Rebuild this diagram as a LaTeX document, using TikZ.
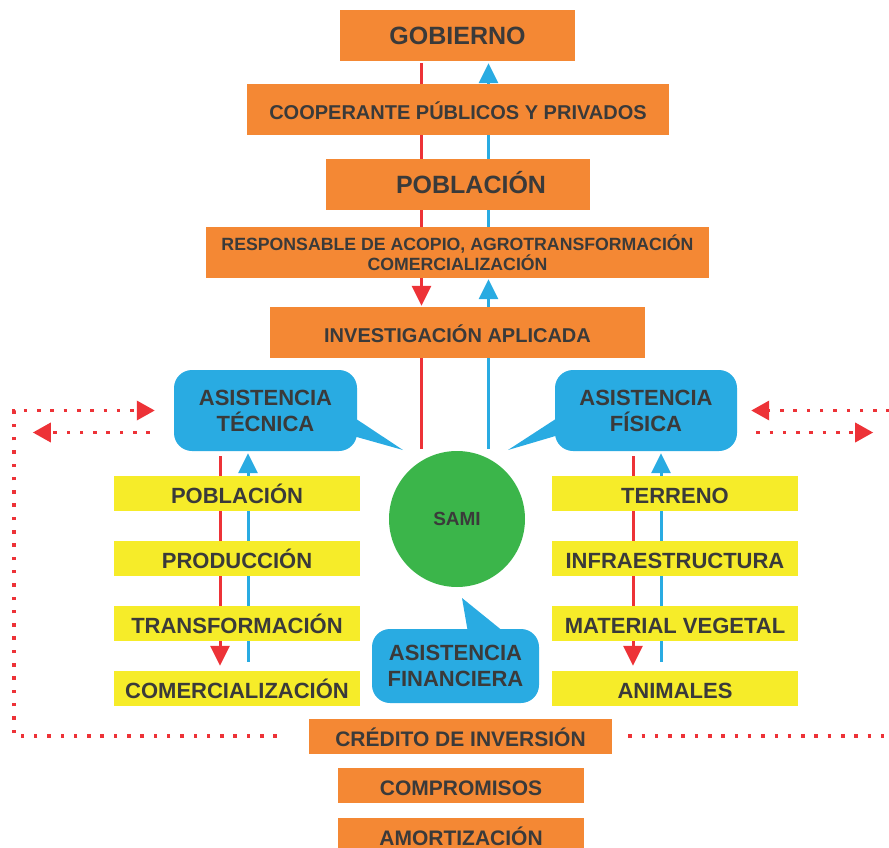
\documentclass[tikz,border=0pt]{standalone}
\usepackage{fontspec}
\setmainfont{Liberation Sans}
\usetikzlibrary{arrows.meta, backgrounds}
\definecolor{naranja}{RGB}{244,136,52}
\definecolor{celeste}{RGB}{41,171,226}
\definecolor{amarillo}{RGB}{246,236,41}
\definecolor{verde}{RGB}{59,181,74}
\definecolor{rojo}{RGB}{237,50,55}
\definecolor{texto}{RGB}{58,58,58}

\begin{document}
\begin{tikzpicture}[x=1pt, y=-1pt,
    caja/.style={rectangle, fill=naranja, text=texto, inner sep=0pt},
    titulo/.style={caja, font=\bfseries\fontsize{25}{30}\selectfont, text height=18pt, text depth=0pt, minimum height=51pt},
    medio/.style={caja, font=\bfseries\fontsize{20}{24}\selectfont, text height=19.5pt, text depth=0pt, minimum height=51pt},
    bajo/.style={caja, font=\bfseries\fontsize{21}{25}\selectfont, text height=20pt, text depth=0pt, minimum height=35pt},
    amarilla/.style={rectangle, fill=amarillo, text=texto, inner sep=0pt, font=\bfseries\fontsize{22}{26}\selectfont, minimum width=246pt, minimum height=35pt, text height=20pt, text depth=0pt},
    globo/.style={rectangle, rounded corners=18pt, fill=celeste, text=texto, align=center, inner sep=0pt, font=\bfseries\fontsize{22}{26}\selectfont},
    rojolinea/.style={draw=rojo, line width=3pt},
    azullinea/.style={draw=celeste, line width=3pt},
    rojoflecha/.style={rojolinea, -{Triangle[length=20pt,width=19pt]}},
    azulflecha/.style={azullinea, -{Triangle[length=20pt,width=19pt]}},
    punteado/.style={draw=rojo, line width=3.5pt, dash pattern=on 3.5pt off 9.8pt, -{Triangle[length=18pt,width=19pt]}}
]
\useasboundingbox (0,0) rectangle (889,848);
\clip (0,0) rectangle (889,848);

\node[titulo, minimum width=235pt] (gob) at (457.5,35.5) {GOBIERNO};
\node[medio, minimum width=422pt] (coop) at (458,109.5) {COOPERANTE PÚBLICOS Y PRIVADOS};
\node[titulo, minimum width=264pt] (pob) at (458,184.5) {\hspace*{26pt}POBLACIÓN};
\node[caja, minimum width=503pt, minimum height=51pt, align=center, font=\bfseries\fontsize{17.7}{20}\selectfont] (resp) at (457.5,252.5)
    {RESPONSABLE DE ACOPIO, AGROTRANSFORMACIÓN\\COMERCIALIZACIÓN};
\node[medio, minimum width=375pt] (inv) at (457.5,332.5) {INVESTIGACIÓN APLICADA};

\node[circle, fill=verde, minimum size=136pt, inner sep=0pt, text=texto, font=\bfseries\fontsize{19}{23}\selectfont] (sami) at (457,519) {SAMI};

\node[globo, minimum width=183pt, minimum height=81pt] (tec) at (265.5,410.5) {ASISTENCIA\\TÉCNICA};
\node[globo, minimum width=182pt, minimum height=81pt] (fis) at (646,410.5) {ASISTENCIA\\FÍSICA};
\node[globo, minimum width=167pt, minimum height=74pt] (fin) at (455.5,666) {ASISTENCIA\\FINANCIERA};

\foreach \t [count=\i] in {POBLACIÓN, PRODUCCIÓN, TRANSFORMACIÓN, COMERCIALIZACIÓN}
    \node[amarilla] (L-\i) at (237, 428.5+65*\i) {\t};
\foreach \t [count=\i] in {TERRENO, INFRAESTRUCTURA, MATERIAL VEGETAL, ANIMALES}
    \node[amarilla] (R-\i) at (675, 428.5+65*\i) {\t};

\node[bajo, minimum width=303pt] (cred) at (460.5,736) {CRÉDITO DE INVERSIÓN};
\node[bajo, minimum width=246pt] (comp) at (461,785.5) {COMPROMISOS};
\node[bajo, minimum width=246pt] (amor) at (461,835) {AMORTIZACIÓN};

% Globe pointers
\coordinate (puntaT) at (403,450);
\coordinate (puntaF) at (508,450);
\coordinate (puntaN) at (462,598);
\fill[celeste] ([xshift=-4pt,yshift=-6.5pt]tec.east) -- (puntaT) -- ([xshift=-4pt,yshift=-25.5pt]tec.east) -- cycle;
\fill[celeste] ([xshift=4pt,yshift=-6.5pt]fis.west) -- (puntaF) -- ([xshift=4pt,yshift=-24.5pt]fis.west) -- cycle;
\fill[celeste] ([xshift=12.5pt,yshift=-4pt]fin.north) -- (puntaN) -- ([xshift=49.5pt,yshift=-4pt]fin.north) -- cycle;

% Connections
\begin{scope}[on background layer]
\draw[rojoflecha, shorten >=1pt] ([xshift=-36pt,yshift=-2pt]gob.south) -- ([xshift=-36pt]inv.north);
\draw[rojolinea] ([xshift=-36pt]inv.south) -- ([xshift=-35.5pt,yshift=2pt]sami.north);
\draw[azullinea] ([xshift=31.5pt,yshift=2pt]sami.north) -- ([xshift=31pt]inv.south);
\draw[azulflecha, shorten >=1pt] ([xshift=31pt]inv.north) -- ([xshift=31pt]resp.south);
\draw[azulflecha] ([xshift=31pt]resp.north) -- ([xshift=31pt,yshift=-2pt]gob.south);

\draw[rojoflecha] ([xshift=-45.5pt,yshift=-5pt]tec.south) -- ([xshift=-17pt,yshift=5pt]L-4.north);
\draw[azulflecha] ([xshift=11pt,yshift=9pt]L-4.north) -- ([xshift=-17.5pt,yshift=-2pt]tec.south);
\draw[rojoflecha] ([xshift=-13pt,yshift=-5pt]fis.south) -- ([xshift=-42pt,yshift=5pt]R-4.north);
\draw[azulflecha] ([xshift=-14pt,yshift=9pt]R-4.north) -- ([xshift=15pt,yshift=-2pt]fis.south);
\end{scope}

% Dotted loops
\draw[punteado, shorten <=32pt, shorten >=19pt] (cred.west) -- ++(-295pt,0pt) |- (tec.west);
\draw[punteado] ([xshift=-24pt,yshift=-22pt]tec.west) -- ++(-117pt,0pt);
\draw[punteado, shorten <=16pt, shorten >=14pt] (cred.east) -- ++(290pt,0pt) |- (fis.east);
\draw[punteado] ([xshift=19pt,yshift=-22pt]fis.east) -- ++(117pt,0pt);

\end{tikzpicture}
\end{document}
